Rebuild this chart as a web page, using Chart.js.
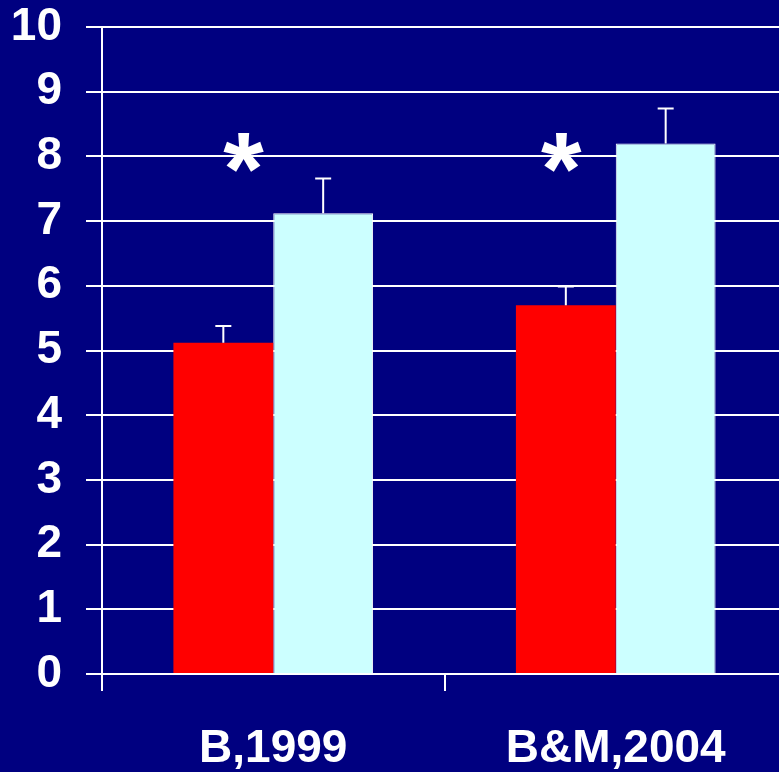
<!DOCTYPE html>
<html>
<head>
<meta charset="utf-8">
<script src="https://cdn.jsdelivr.net/npm/chart.js@4.4.0/dist/chart.umd.min.js"></script>
<style>
  html, body { margin: 0; padding: 0; background: #000080; overflow: hidden; }
  #wrap { width: 787px; height: 772px; }
</style>
</head>
<body>
<div id="wrap"><canvas id="myChart" width="787" height="772"></canvas></div>
<script>
// categories and series
const categories = ['B,1999', 'B&M,2004'];
const redValues = [5.12, 5.70];
const redErrors = [0.26, 0.29];
const cyanValues = [7.12, 8.20];
const cyanErrors = [0.54, 0.54];
const yTicks = [0, 1, 2, 3, 4, 5, 6, 7, 8, 9, 10];
// significance marks (value level and shift as part of category width)
const starLevel = [8.06, 8.06];
const starShift = [-0.087, -0.159];

const fontFam = "'Liberation Sans', Arial, sans-serif";
var ctx = document.getElementById('myChart').getContext('2d');

const errorBars = {
    id: 'errorBars',
    afterDatasetsDraw(chart) {
        const c = chart.ctx;
        const y = chart.scales.y;
        c.save();
        c.strokeStyle = '#ffffff';
        c.lineWidth = 2;
        chart.data.datasets.forEach(function(ds, i) {
            const meta = chart.getDatasetMeta(i);
            meta.data.forEach(function(bar, j) {
                const top = y.getPixelForValue(ds.data[j] + ds.errors[j]);
                c.beginPath();
                c.moveTo(bar.x, bar.y);
                c.lineTo(bar.x, top);
                c.moveTo(bar.x - 8, top);
                c.lineTo(bar.x + 8, top);
                c.stroke();
            });
        });
        // asterisks
        const x = chart.scales.x;
        const w = x.getPixelForValue(1) - x.getPixelForValue(0);
        c.fillStyle = '#ffffff';
        c.font = 'bold 104px ' + fontFam;
        c.textAlign = 'center';
        c.textBaseline = 'alphabetic';
        for (var k = 0; k < categories.length; k++) {
            const m = c.measureText('*');
            const cx = x.getPixelForValue(k) + starShift[k] * w;
            const cy = y.getPixelForValue(starLevel[k]);
            const base = cy + (m.actualBoundingBoxAscent - m.actualBoundingBoxDescent) / 2;
            c.fillText('*', cx, base);
        }
        c.restore();
    }
};

var myChart = new Chart(ctx, {
    type: 'bar',
    data: {
        labels: categories,
        datasets: [{
            data: redValues,
            errors: redErrors,
            backgroundColor: '#ff0000',
            borderWidth: 0,
            barPercentage: 1,
            categoryPercentage: 0.583
        }, {
            data: cyanValues,
            errors: cyanErrors,
            backgroundColor: '#ccffff',
            borderColor: '#ffffff',
            borderWidth: 1,
            barPercentage: 1,
            categoryPercentage: 0.583
        }]
    },
    options: {
        responsive: false,
        animation: false,
        devicePixelRatio: 1,
        layout: { padding: 0 },
        plugins: {
            legend: { display: false },
            tooltip: { enabled: false }
        },
        scales: {
            x: {
                grid: {
                    drawOnChartArea: false,
                    drawTicks: true,
                    tickLength: 17,
                    color: '#ffffff',
                    lineWidth: 2,
                    offset: true
                },
                border: { display: true, color: '#ffffff', width: 2 },
                ticks: {
                    color: '#ffffff',
                    padding: 31,
                    font: { family: fontFam, weight: 'bold', size: 46 }
                },
                afterFit: function(scale) {
                    scale.height = 98;
                    scale.paddingLeft = 0;
                    scale.paddingRight = 0;
                }
            },
            y: {
                min: 0,
                max: 10,
                afterBuildTicks: function(scale) {
                    scale.ticks = yTicks.map(function(v) { return { value: v }; });
                },
                grid: {
                    color: '#ffffff',
                    lineWidth: 2,
                    tickLength: 16
                },
                border: { display: true, color: '#ffffff', width: 2 },
                ticks: {
                    color: '#ffffff',
                    padding: 24,
                    font: { family: fontFam, weight: 'bold', size: 46 }
                },
                afterFit: function(scale) {
                    scale.width = 102;
                    scale.paddingTop = 27;
                    scale.paddingBottom = 0;
                }
            }
        }
    },
    plugins: [errorBars]
});
</script>
</body>
</html>
